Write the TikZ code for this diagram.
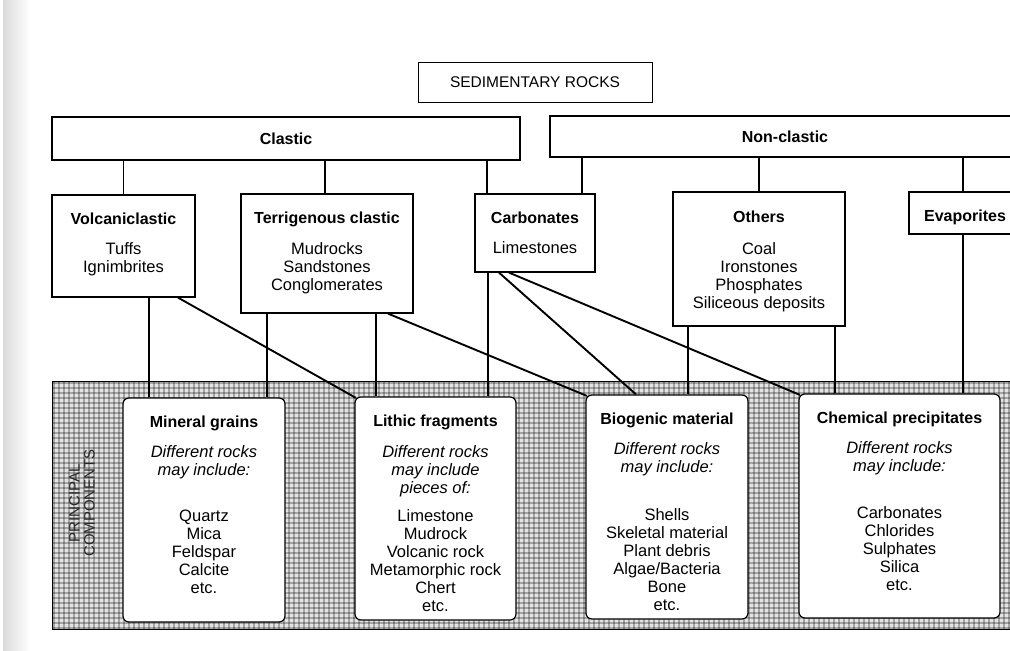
\documentclass[tikz,border=0pt]{standalone}
\usepackage{fontspec}
\setmainfont{Liberation Sans}
\tikzset{
  box/.style={draw, line width=1.2pt, fill=white, inner sep=0pt},
  rbox/.style={box, rounded corners=6pt},
  link/.style={line width=1.9pt},
  grid line/.style={line width=2.4pt, draw=black, draw opacity=0.27},
  ttl/.style={font=\fontsize{16}{18}\selectfont\bfseries, inner sep=0pt, anchor=north},
  itl/.style={font=\fontsize{16.5}{18}\selectfont\itshape, align=center, inner sep=0pt, anchor=north},
  lst/.style={font=\fontsize{16.5}{18}\selectfont, align=center, inner sep=0pt, anchor=north},
}
\begin{document}
\begin{tikzpicture}[x=1pt,y=-1pt]
\useasboundingbox (0,0) rectangle (1010,651);
\clip (0,0) rectangle (1010,651);
% scan shadow on the left
\shade[left color=gray!28, right color=white] (3,0) rectangle (30,651);
% shaded band
\fill[gray!22] (52,381) rectangle (1030,629);
\begin{scope}
\clip (52,381) rectangle (1030,629);
\foreach \gx in {54,59,...,1030} \draw[grid line] (\gx,381) -- (\gx,629);
\foreach \gy in {383,388,...,629} \draw[grid line] (52,\gy) -- (1030,\gy);
\end{scope}
\draw[line width=0.9pt] (52,381) rectangle (1030,629);
\node[rotate=90, align=center, inner sep=0pt, text=black!85, font=\fontsize{15}{15}\selectfont] (pc) at (82,503) {PRINCIPAL\\COMPONENTS};

% top boxes
\node[box, line width=1pt, minimum width=234pt, minimum height=40pt, font=\fontsize{15.5}{18}\selectfont] (sed) at (535,82) {SEDIMENTARY ROCKS};
\node[box, minimum width=468pt, minimum height=43pt, font=\fontsize{16}{18}\selectfont\bfseries] (clastic) at (286,138.5) {Clastic};
\node[box, minimum width=470pt, minimum height=41pt, font=\fontsize{16}{18}\selectfont\bfseries] (nonclastic) at (785,136.5) {Non-clastic};

\node[box, minimum width=143pt, minimum height=102pt] (volc) at (123.5,246) {};
\node[ttl] (volct) at (123.5,213) {Volcaniclastic};
\node[lst] (volcl) at (123.5,242) {Tuffs\\Ignimbrites};

\node[box, minimum width=172pt, minimum height=119pt] (terr) at (327,253.5) {};
\node[ttl] (terrt) at (327,212) {Terrigenous clastic};
\node[lst] (terrl) at (327,242) {Mudrocks\\Sandstones\\Conglomerates};

\node[box, minimum width=120pt, minimum height=78pt] (carb) at (535,233) {};
\node[ttl] (carbt) at (535,212) {Carbonates};
\node[lst] (carbl) at (535,241) {Limestones};

\node[box, minimum width=172pt, minimum height=134pt] (oth) at (759,259) {};
\node[ttl] (otht) at (759,211) {Others};
\node[lst] (othl) at (759,242) {Coal\\Ironstones\\Phosphates\\Siliceous deposits};

\node[box, minimum width=112pt, minimum height=42pt] (evap) at (965,213) {};
\node[ttl] (evapt) at (965,210) {Evaporites};

% bottom boxes
\node[rbox, minimum width=162pt, minimum height=224pt] (min) at (204,510) {};
\node[ttl] (mint) at (204,416) {Mineral grains};
\node[itl] (mini) at (204,445) {Different rocks\\may include:};
\node[lst] (minl) at (204,510) {Quartz\\Mica\\Feldspar\\Calcite\\etc.};

\node[rbox, minimum width=161pt, minimum height=223pt] (lith) at (435.5,508.5) {};
\node[ttl] (litht) at (435.5,415) {Lithic fragments};
\node[itl] (lithi) at (435.5,445) {Different rocks\\may include\\pieces of:};
\node[lst] (lithl) at (435.5,509) {Limestone\\Mudrock\\Volcanic rock\\Metamorphic rock\\Chert\\etc.};

\node[rbox, minimum width=162pt, minimum height=224pt] (bio) at (667,507) {};
\node[ttl] (biot) at (667,413) {Biogenic material};
\node[itl] (bioi) at (667,442) {Different rocks\\may include:};
\node[lst] (biol) at (667,508) {Shells\\Skeletal material\\Plant debris\\Algae/Bacteria\\Bone\\etc.};

\node[rbox, minimum width=201pt, minimum height=224pt] (chem) at (899.5,506) {};
\node[ttl] (chemt) at (899.5,412) {Chemical precipitates};
\node[itl] (chemi) at (899.5,441) {Different rocks\\may include:};
\node[lst] (cheml) at (899.5,506) {Carbonates\\Chlorides\\Sulphates\\Silica\\etc.};

% connectors, upper level
\draw[link] (clastic.south -| volc.north) -- (volc.north);
\draw[link] ([xshift=-2pt]terr.north |- clastic.south) -- ([xshift=-2pt]terr.north);
\draw[link] ([xshift=-48pt]carb.north |- clastic.south) -- ([xshift=-48pt]carb.north);
\draw[link] ([xshift=47pt]carb.north |- nonclastic.south) -- ([xshift=47pt]carb.north);
\draw[link] (nonclastic.south -| oth.north) -- (oth.north);
\draw[link] ([xshift=-2pt]evap.north |- nonclastic.south) -- ([xshift=-2pt]evap.north);

% connectors, to principal components
\draw[link] ([xshift=25.5pt]volc.south) -- ([xshift=25.5pt]volc.south |- min.north);
\draw[link] ([xshift=54.5pt]volc.south) -- ([xshift=1.5pt,yshift=-1.5pt]lith.north west);
\draw[link] ([xshift=-60pt]terr.south) -- ([xshift=-60pt]terr.south |- min.north);
\draw[link] ([xshift=49pt]terr.south) -- ([xshift=49pt]terr.south |- lith.north);
\draw[link] ([xshift=61pt]terr.south) -- ([xshift=1.5pt,yshift=-1.5pt]bio.north west);
\draw[link] ([xshift=-47pt]carb.south) -- ([xshift=-47pt]carb.south |- lith.north);
\draw[link] ([xshift=-36pt]carb.south) -- ([xshift=-31pt]bio.north);
\draw[link] ([xshift=-26pt]carb.south) -- ([xshift=1.5pt,yshift=-1.5pt]chem.north west);
\draw[link] ([xshift=-71pt]oth.south) -- ([xshift=-71pt]oth.south |- bio.north);
\draw[link] ([xshift=76pt]oth.south) -- ([xshift=76pt]oth.south |- chem.north);
\draw[link] ([xshift=-2pt]evap.south) -- ([xshift=-2pt]evap.south |- chem.north);
\end{tikzpicture}
\end{document}
